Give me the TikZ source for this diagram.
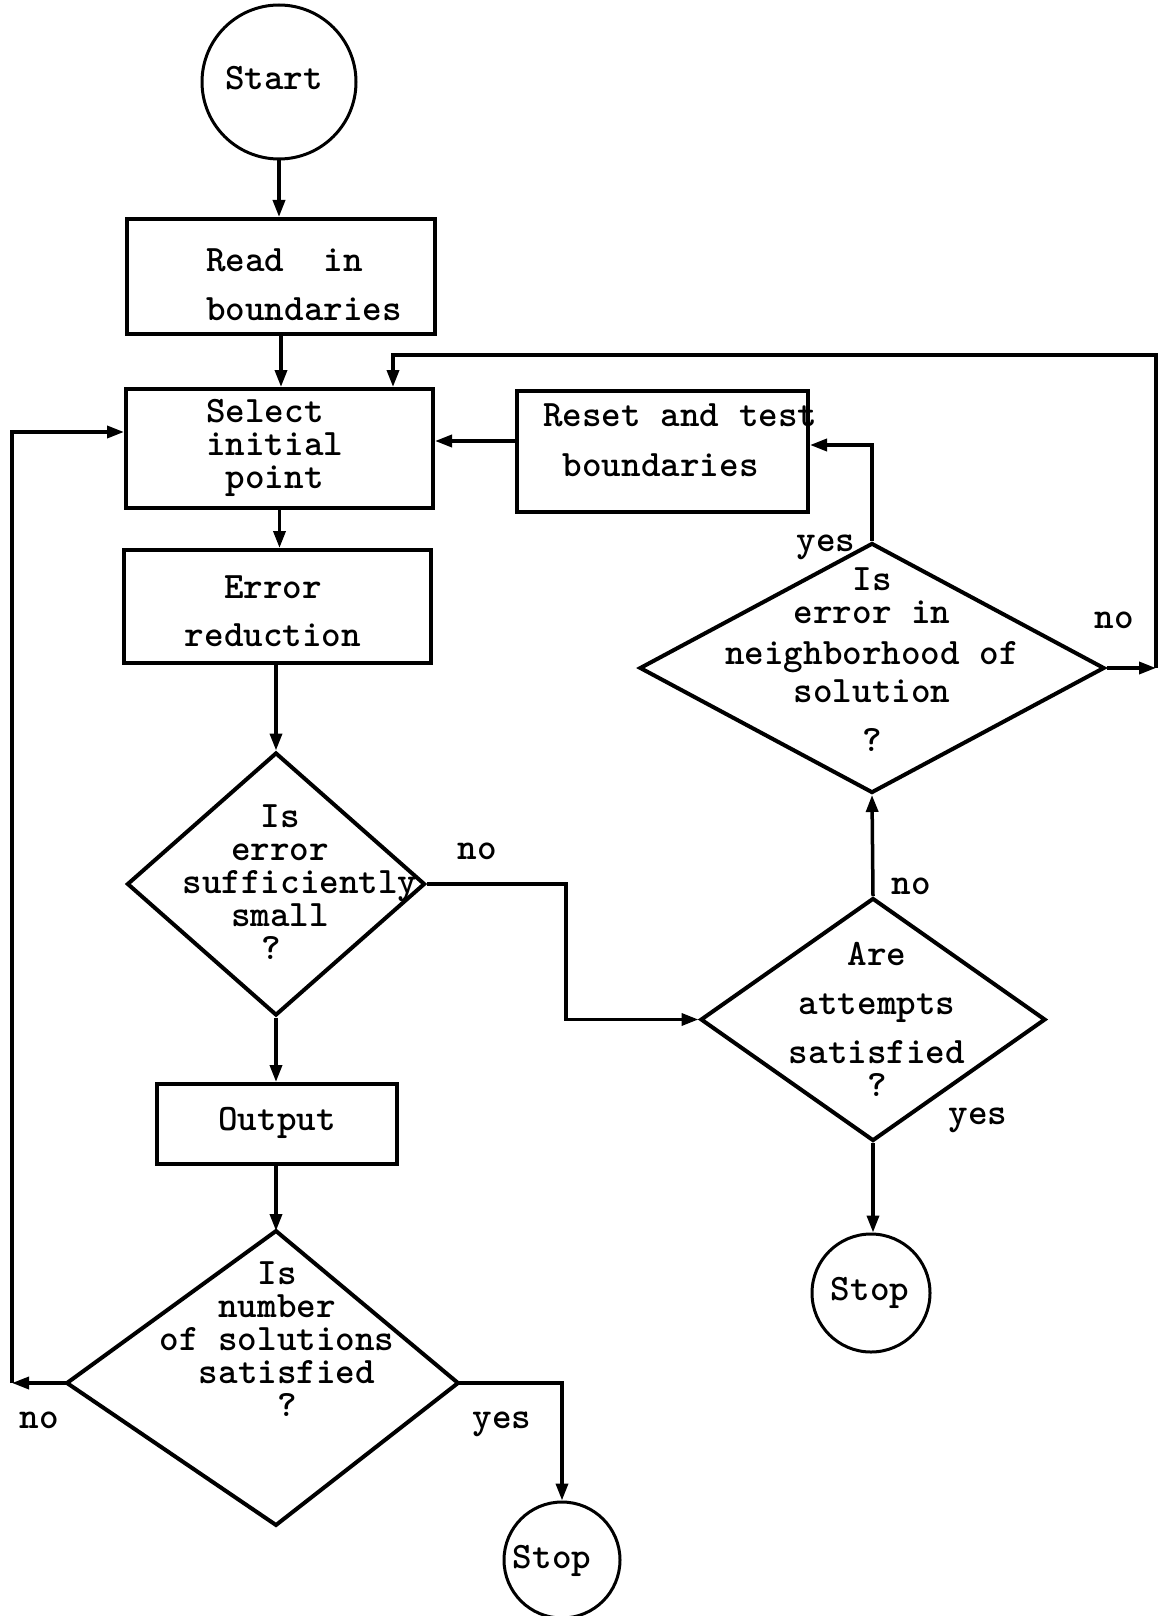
\documentclass[tikz,border=0pt]{standalone}
\usepackage{fontspec}
\usetikzlibrary{shapes.geometric,arrows.meta}
\newcommand\tfont{\ttfamily\bfseries\fontsize{37.3}{33}\selectfont}
\tikzset{
  box/.style={draw, line width=4pt, rectangle, inner sep=0pt},
  dia/.style={draw, line width=4pt, diamond, inner sep=0pt},
  diapath/.style={line width=4pt, line join=miter},
  term/.style={draw, line width=3pt, circle, inner sep=0pt},
  txt/.style={align=center, inner sep=0pt, font=\tfont},
  lbl/.style={inner sep=0pt, font=\tfont},
  flow/.style={line width=3.5pt, -{Triangle[length=17pt,width=12pt]}},
}
\begin{document}
\begin{tikzpicture}[x=1pt,y=-1pt]
\clip (0,0) rectangle (1158,1616);
\fill[white] (0,0) rectangle (1158,1616);

% shapes
\node[term, minimum size=154pt] (start) at (279,82) {};
\node[box, minimum width=308pt, minimum height=115pt] (read) at (281,276.5) {};
\node[box, minimum width=307pt, minimum height=119pt] (select) at (279.5,448.5) {};
\node[box, minimum width=307pt, minimum height=113pt] (error) at (277.5,606.5) {};
\node[dia, minimum width=298pt, minimum height=263pt] (d1) at (276,884) {};
\node[box, minimum width=240pt, minimum height=80pt] (output) at (277,1124) {};
\coordinate (d3n) at (276,1231);
\coordinate (d3e) at (458,1383);
\coordinate (d3s) at (276,1525);
\coordinate (d3w) at (67,1383);
\draw[diapath] (d3n) -- (d3e) -- (d3s) -- (d3w) -- cycle;
\node[term, minimum size=116pt] (stop1) at (562,1560) {};
\node[dia, minimum width=345pt, minimum height=243pt] (d2) at (873,1019.5) {};
\node[term, minimum size=118pt] (stop2) at (871,1293) {};
\node[dia, minimum width=465pt, minimum height=250pt] (d4) at (872,668) {};
\node[box, minimum width=291pt, minimum height=121pt] (reset) at (662.5,451.5) {};

% texts
\node[txt] (tstart) at (274,78) {Start};
\node[txt, align=left, anchor=west] (tread) at (206,285) {Read\ \ in\\[16pt]boundaries};
\node[txt, align=left, anchor=west] (tselect) at (206,448) {Select\\initial\\\hphantom{p}point};
\node[txt] (terror) at (273,611.5) {Error\\[15pt]reduction};
\node[txt] (td1) at (280,882) {Is\\error\\\hspace*{40pt}sufficiently\\small\hspace*{18pt}\\?\hspace*{18pt}};
\node[txt] (toutput) at (277,1123) {Output};
\node[txt] (td3) at (277,1339) {Is\\number\\of solutions\\\hspace*{20pt}satisfied\\\hspace*{20pt}?};
\node[txt] (tstop1) at (552,1561) {Stop};
\node[txt] (td2) at (877,1019) {Are\\[16pt]attempts\\[16pt]satisfied\\?};
\node[txt] (tstop2) at (870,1293) {Stop};
\node[txt] (td4) at (872,660) {Is\\error in\\[8pt]neighborhood of\\[5pt]solution\\[16pt]?};
\node[txt, align=left, anchor=west] (treset) at (543,440) {Reset and test\\[17pt]\hphantom{b}boundaries};

% labels
\node[lbl] (lno1) at (477,851) {no};
\node[lbl] (lno2) at (911,886) {no};
\node[lbl] (lyes2) at (978,1120) {yes};
\node[lbl] (lno3) at (39,1420) {no};
\node[lbl] (lyes3) at (502,1424) {yes};
\node[lbl] (lyes4) at (826,547) {yes};
\node[lbl] (lno4) at (1114,620) {no};

% helper coordinates
\coordinate (c1) at (566,0);
\coordinate (c4) at (0,445);
\coordinate (c5) at (1156,668);
\coordinate (c6) at (1156,355);
\coordinate (c7) at (393,355);
\coordinate (c8) at (0,441);
\coordinate (c9) at (12,1383);
\coordinate (c10) at (0,432);
\coordinate (c11) at (562,0);

% connectors
\draw[flow] (start.south) -- (start.south |- read.north);
\draw[flow] (read.south) -- (read.south |- select.north);
\draw[flow] (select.south) -- (select.south |- error.north);
\draw[flow] (error.south -| d1.north) -- (d1.north);
\draw[flow] (d1.south) -- (d1.south |- output.north);
\draw[flow] (output.south -| d3n) -- (d3n);
\draw[flow] (d1.east) -- (d1.east -| c1) -- (c1 |- d2.west) -- (d2.west);
\draw[flow] (d2.north) -- (d4.south);
\draw[flow] (d2.south) -- (d2.south |- stop2.north);
\draw[flow] (d4.north) -- (d4.north |- c4) -- (reset.east |- c4);
\draw[flow] (d4.east) -- (c5);
\draw[flow] (c5) -- (c6) -- (c7) -- (c7 |- select.north);
\draw[flow] (reset.west |- c8) -- (select.east |- c8);
\draw[flow] (d3w) -- (c9);
\draw[flow] (c9) -- (c9 |- c10) -- (select.west |- c10);
\draw[flow] (d3e) -- (d3e -| c11) -- (c11 |- stop1.north);
\end{tikzpicture}
\end{document}
